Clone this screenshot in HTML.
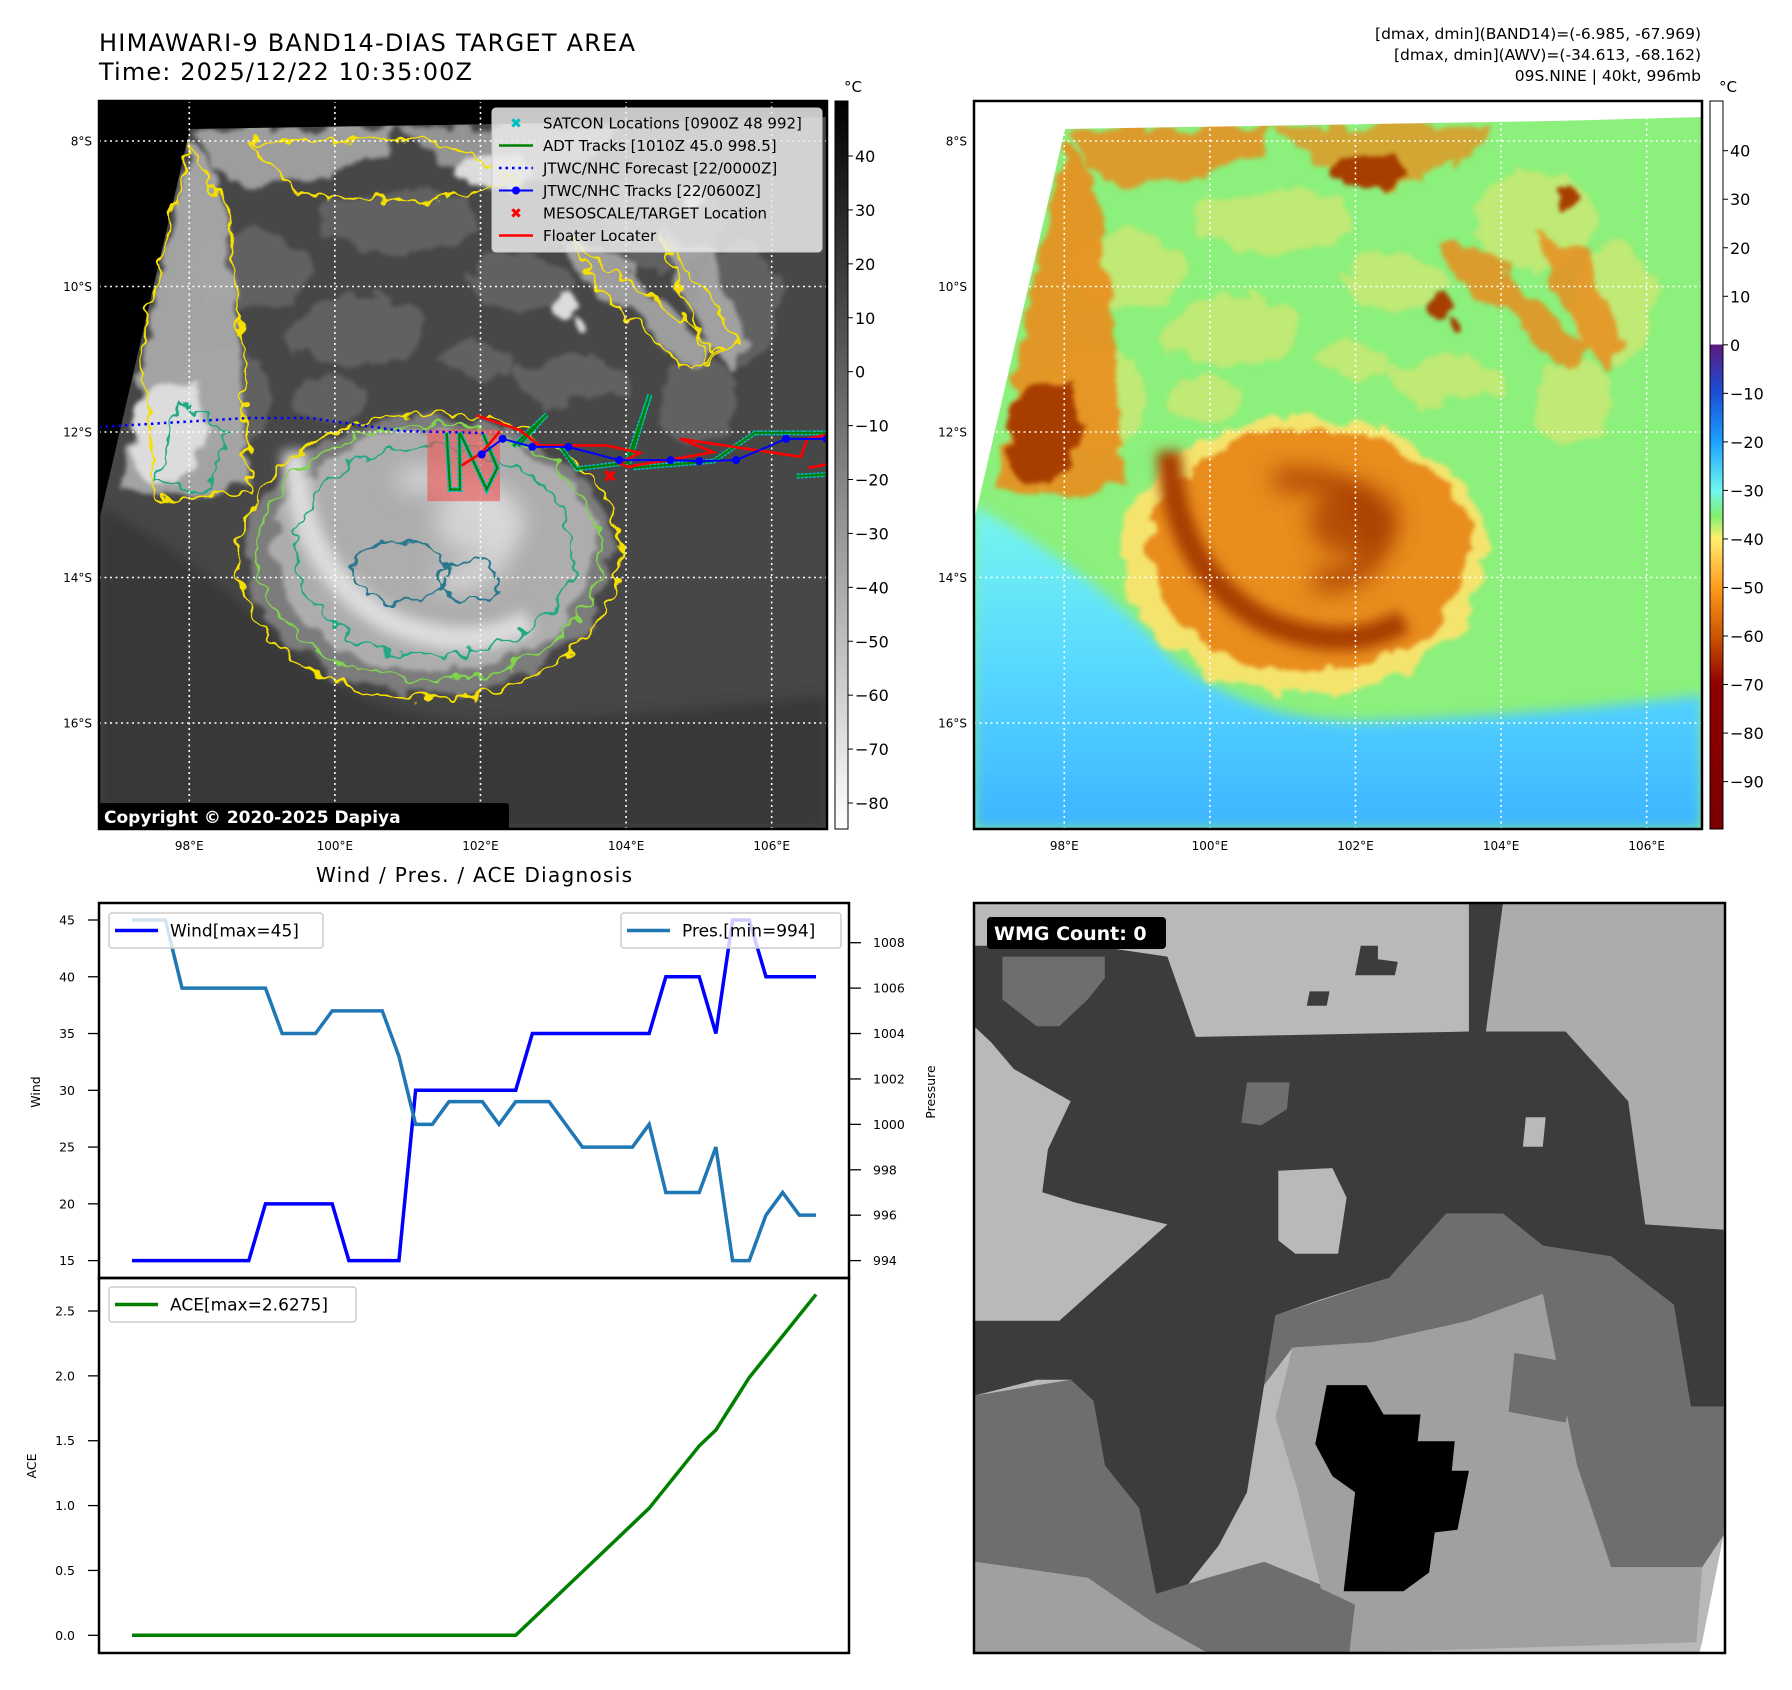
<!DOCTYPE html>
<html><head><meta charset="utf-8">
<style>
html,body{margin:0;padding:0;background:#fff;}
body{width:1792px;height:1690px;position:relative;overflow:hidden;font-family:"Liberation Sans","DejaVu Sans",sans-serif;}
svg{position:absolute;left:0;top:0;}
text{font-family:"DejaVu Sans","Liberation Sans",sans-serif;}
</style></head>
<body>
<svg id="root" width="1792" height="1690" viewBox="0 0 1792 1690">
<defs>
  <filter id="blur6" x="-20%" y="-20%" width="140%" height="140%"><feGaussianBlur stdDeviation="6"/></filter>
  <filter id="blur12" x="-30%" y="-30%" width="160%" height="160%"><feGaussianBlur stdDeviation="12"/></filter>
  <filter id="wig" x="-10%" y="-10%" width="120%" height="120%">
    <feTurbulence type="fractalNoise" baseFrequency="0.06" numOctaves="2" seed="3" result="n"/>
    <feDisplacementMap in="SourceGraphic" in2="n" scale="22" xChannelSelector="R" yChannelSelector="G"/>
  </filter>
  <filter id="rough" x="-10%" y="-10%" width="120%" height="120%">
    <feTurbulence type="fractalNoise" baseFrequency="0.035" numOctaves="3" seed="7" result="n"/>
    <feDisplacementMap in="SourceGraphic" in2="n" scale="30" xChannelSelector="R" yChannelSelector="G"/>
    <feGaussianBlur stdDeviation="2"/>
  </filter>
  <clipPath id="clipMap"><rect x="0" y="0" width="728" height="728"/></clipPath>
  <clipPath id="clipWind"><rect x="99" y="903" width="750" height="375"/></clipPath>
  <clipPath id="clipAce"><rect x="99" y="1278" width="750" height="375"/></clipPath>
  <linearGradient id="cb1" x1="0" y1="0" x2="0" y2="1">
    <stop offset="0" stop-color="#000"/><stop offset="1" stop-color="#fff"/>
  </linearGradient>
  <linearGradient id="cb2" x1="0" y1="0" x2="0" y2="1">
    <stop offset="0" stop-color="#fff"/><stop offset="0.334" stop-color="#fff"/>
    <stop offset="0.335" stop-color="#5b1a7e"/>
    <stop offset="0.40" stop-color="#1a4fd6"/>
    <stop offset="0.467" stop-color="#1aa0ff"/>
    <stop offset="0.535" stop-color="#6ff8f0"/>
    <stop offset="0.57" stop-color="#80f070"/>
    <stop offset="0.60" stop-color="#ffee70"/>
    <stop offset="0.67" stop-color="#ff9a1a"/>
    <stop offset="0.74" stop-color="#c85000"/>
    <stop offset="0.80" stop-color="#900000"/>
    <stop offset="1" stop-color="#7a0000"/>
  </linearGradient>
  <linearGradient id="sea2" x1="0" y1="0" x2="0" y2="1">
    <stop offset="0" stop-color="#78f6ee"/><stop offset="0.5" stop-color="#58d8ff"/><stop offset="1" stop-color="#3cb4ff"/>
  </linearGradient>
</defs>

<text x="99" y="51" font-size="24" textLength="536">HIMAWARI-9 BAND14-DIAS TARGET AREA</text>
<text x="99" y="80" font-size="24" textLength="373">Time: 2025/12/22 10:35:00Z</text>
<text x="1701" y="39" font-size="15.5" text-anchor="end">[dmax, dmin](BAND14)=(-6.985, -67.969)</text>
<text x="1701" y="60" font-size="15.5" text-anchor="end">[dmax, dmin](AWV)=(-34.613, -68.162)</text>
<text x="1701" y="81" font-size="15.5" text-anchor="end">09S.NINE | 40kt, 996mb</text>

<g id="map1" transform="translate(99,101)"></g>
<g id="map2" transform="translate(974,101)"></g>

<g>
  <rect x="835" y="101" width="13" height="728" fill="url(#cb1)" stroke="#000" stroke-width="1"/>
  <text x="844" y="92" font-size="15">°C</text>
  <g id="cb1ticks"></g>
</g>
<g>
  <rect x="1710" y="101" width="13" height="728" fill="url(#cb2)" stroke="#000" stroke-width="1"/>
  <text x="1719" y="92" font-size="15">°C</text>
  <g id="cb2ticks"></g>
</g>

<text x="474" y="882" font-size="20" text-anchor="middle" textLength="316">Wind / Pres. / ACE Diagnosis</text>
<g id="chart"></g>

<g id="wmg" transform="translate(974,903)"></g>
</svg>

<script>
// ===== chart data =====
const timeIndex = [0,1,2,3,4,5,6,7,8,9,10,11,12,13,14,15,16,17,18,19,20,21,22,23,24,25,26,27,28,29,30,31,32,33,34,35,36,37,38,39,40,41];
const windValues = [15,15,15,15,15,15,15,15,20,20,20,20,20,15,15,15,15,30,30,30,30,30,30,30,35,35,35,35,35,35,35,35,40,40,40,35,45,45,40,40,40,40];
const pressureValues = [1009,1009,1009,1006,1006,1006,1006,1006,1006,1004,1004,1004,1005,1005,1005,1005,1003,1000,1000,1001,1001,1001,1000,1001,1001,1001,1000,999,999,999,999,1000,997,997,997,999,994,994,996,997,996,996];
const aceValues = [0,0,0,0,0,0,0,0,0,0,0,0,0,0,0,0,0,0,0,0,0,0,0,0,0.1225,0.245,0.3675,0.49,0.6125,0.735,0.8575,0.98,1.14,1.30,1.46,1.5825,1.785,1.9875,2.1475,2.3075,2.4675,2.6275];
const windTicks = [15,20,25,30,35,40,45];
const pressureTicks = [994,996,998,1000,1002,1004,1006,1008];
const aceTicks = [0.0,0.5,1.0,1.5,2.0,2.5];
const grayBarTicks = [40,30,20,10,0,-10,-20,-30,-40,-50,-60,-70,-80];
const colorBarTicks = [40,30,20,10,0,-10,-20,-30,-40,-50,-60,-70,-80,-90];
const lonTicks = [98,100,102,104,106];
const latTicks = [8,10,12,14,16];

const NS = 'http://www.w3.org/2000/svg';
function mk(tag, attrs, parent){const e=document.createElementNS(NS,tag);for(const k in attrs)e.setAttribute(k,attrs[k]);if(parent)parent.appendChild(e);return e;}

const xIdx = i => 132 + (816-132)*i/41;
const yWind = w => 1260.6 - (w-15)*(1260.6-920)/30;
const yPres = p => yWind(15 + 2*(p-994));
const yAce = a => 1635.3 - a*(1635.3-1311)/2.5;

const chart = document.getElementById('chart');
let f1 = mk('rect',{x:99,y:903,width:750,height:375,fill:'#fff',stroke:'none'},chart);


let f2 = mk('rect',{x:99,y:1278,width:750,height:375,fill:'#fff',stroke:'none'},chart);



windTicks.forEach(t=>{
  const y=yWind(t);
  mk('line',{x1:88,x2:99,y1:y,y2:y,stroke:'#000','stroke-width':1.3},chart);
  const tx=mk('text',{x:75,y:y+4.5,'font-size':12.5,'text-anchor':'end'},chart);
  tx.textContent=t;
  
  
});
pressureTicks.forEach(t=>{
  const y=yPres(t);
  mk('line',{x1:849,x2:861,y1:y,y2:y,stroke:'#000','stroke-width':1.3},chart);
  const tx=mk('text',{x:873,y:y+4.5,'font-size':12.5},chart);
  tx.textContent=t;
  
  
});
aceTicks.forEach(t=>{
  const y=yAce(t);
  mk('line',{x1:88,x2:99,y1:y,y2:y,stroke:'#000','stroke-width':1.3},chart);
  const tx=mk('text',{x:75,y:y+4.5,'font-size':12.5,'text-anchor':'end'},chart);
  tx.textContent=t.toFixed(1);
  
  
});
let yl=mk('text',{x:0,y:0,'font-size':12.5,'text-anchor':'middle',transform:'translate(40,1092) rotate(-90)'},chart);
yl.textContent='Wind';


let yr=mk('text',{x:0,y:0,'font-size':12.5,'text-anchor':'middle',transform:'translate(935,1092) rotate(-90)'},chart);
yr.textContent='Pressure';


let ya=mk('text',{x:0,y:0,'font-size':12.5,'text-anchor':'middle',transform:'translate(36,1466) rotate(-90)'},chart);
ya.textContent='ACE';



const ptsW = timeIndex.map((i,k)=>xIdx(i)+','+yWind(windValues[k])).join(' ');
const ptsP = timeIndex.map((i,k)=>xIdx(i)+','+yPres(pressureValues[k])).join(' ');
const ptsA = timeIndex.map((i,k)=>xIdx(i)+','+yAce(aceValues[k])).join(' ');
let lw=mk('polyline',{points:ptsW,fill:'none',stroke:'#0000ff','stroke-width':3.5,'clip-path':'url(#clipWind)'},chart);


let lp=mk('polyline',{points:ptsP,fill:'none',stroke:'#1f77b4','stroke-width':3.5,'clip-path':'url(#clipWind)'},chart);


let la=mk('polyline',{points:ptsA,fill:'none',stroke:'#008000','stroke-width':3.5,'clip-path':'url(#clipAce)'},chart);



function legend(x,y,w,color,label,name){
  const g=mk('g',{},chart);
  
  
  mk('rect',{x:x,y:y,width:w,height:35,rx:3,fill:'rgba(255,255,255,0.8)',stroke:'#ccc','stroke-width':1.5},g);
  mk('line',{x1:x+6,x2:x+49,y1:y+17.5,y2:y+17.5,stroke:color,'stroke-width':3.5},g);
  const t=mk('text',{x:x+61,y:y+23.5,'font-size':17},g);
  t.textContent=label;
}
legend(109,913,214,'#0000ff','Wind[max=45]','wind-legend');
legend(621,913,220,'#1f77b4','Pres.[min=994]','pressure-legend');
legend(109,1287,247,'#008000','ACE[max=2.6275]','ace-legend');

let b1=mk('rect',{x:99,y:903,width:750,height:375,fill:'none',stroke:'#000','stroke-width':2.5},chart);


let b2=mk('rect',{x:99,y:1278,width:750,height:375,fill:'none',stroke:'#000','stroke-width':2.5},chart);



const cb1y = v => 156 + (40-v)*(803-156)/120;
const cb2y = v => 150.7 + (40-v)*(781.6-150.7)/130;
const cb1=document.getElementById('cb1ticks');
grayBarTicks.forEach(v=>{
  mk('line',{x1:848,x2:853,y1:cb1y(v),y2:cb1y(v),stroke:'#000'},cb1);
  const t=mk('text',{x:855,y:cb1y(v)+6,'font-size':16},cb1);
  t.textContent=v<0?'\u2212'+(-v):v;
  
  
});
const cb2=document.getElementById('cb2ticks');
colorBarTicks.forEach(v=>{
  mk('line',{x1:1723,x2:1728,y1:cb2y(v),y2:cb2y(v),stroke:'#000'},cb2);
  const t=mk('text',{x:1730,y:cb2y(v)+6,'font-size':16},cb2);
  t.textContent=v<0?'\u2212'+(-v):v;
  
  
});

const lonX = lon => (lon-96.76)*72.8;
const latY = lat => 40 + (lat-8)*72.75;

function buildMap(gid, pal, withOverlays){
  const g=document.getElementById(gid);
  const c=mk('g',{'clip-path':'url(#clipMap)'},g);
  mk('rect',{x:0,y:0,width:728,height:728,fill:pal.base},c);
  const up=mk('g',{filter:'url(#rough)'},c);
  [[150,170,60,40],[260,230,70,35],[420,180,50,30],[560,120,60,50],[640,200,40,60],[120,300,50,60],[300,120,80,30],[470,280,60,25],[600,300,40,40],[230,300,40,20],[380,260,40,18]].forEach(e=>{
    mk('ellipse',{cx:e[0],cy:e[1],rx:e[2],ry:e[3],fill:pal.light,opacity:0.5},up);
  });
  const ts=mk('g',{filter:'url(#rough)'},c);
  mk('path',{d:'M100,28 L300,26 L290,55 L220,75 L150,85 L110,70 Z',fill:pal.mid,opacity:0.85},ts);
  mk('path',{d:'M300,26 L520,24 L500,55 L420,85 L340,60 Z',fill:pal.mid,opacity:0.75},ts);
  mk('ellipse',{cx:395,cy:70,rx:40,ry:16,fill:pal.hi},ts);
  mk('path',{d:'M470,140 L520,150 L560,200 L620,250 L600,270 L540,220 L480,180 Z',fill:pal.mid,opacity:0.85},ts);
  mk('path',{d:'M560,130 L610,150 L650,240 L630,270 L590,200 Z',fill:pal.mid,opacity:0.85},ts);
  mk('ellipse',{cx:470,cy:205,rx:14,ry:10,fill:pal.hi},ts);
  mk('ellipse',{cx:480,cy:225,rx:8,ry:8,fill:pal.hi},ts);
  mk('ellipse',{cx:590,cy:95,rx:12,ry:10,fill:pal.hi},ts);
  mk('path',{d:'M91,40 L125,90 L130,160 L140,250 L150,380 L110,395 L60,390 L20,395 L50,230 Z',fill:pal.mid,filter:'url(#rough)',opacity:0.9},c);
  mk('ellipse',{cx:70,cy:330,rx:38,ry:50,fill:pal.hi,filter:'url(#rough)'},c);
  mk('path',{d:'M0,405 Q120,470 200,560 Q290,625 400,620 Q560,615 728,594 L728,728 L0,728 Z',fill:pal.sea,filter:'url(#blur6)'},c);
  const cy=mk('g',{},c);
  mk('ellipse',{cx:330,cy:455,rx:182,ry:140,fill:pal.light,filter:'url(#rough)'},cy);
  mk('ellipse',{cx:335,cy:448,rx:162,ry:122,fill:pal.mid,filter:'url(#rough)'},cy);
  mk('path',{d:'M195,350 Q200,470 290,520 Q370,555 430,520',fill:'none',stroke:pal.hi,'stroke-width':24,filter:'url(#blur6)'},cy);
  mk('path',{d:'M300,380 Q370,370 400,420 Q410,480 340,480',fill:'none',stroke:pal.hi,'stroke-width':20,filter:'url(#blur12)'},cy);
  mk('ellipse',{cx:380,cy:420,rx:45,ry:35,fill:pal.hi,opacity:0.8,filter:'url(#blur12)'},cy);
  mk('path',{d:'M0,0 L728,0 L728,16 L580,20 L91,28 L0,420 Z',fill:pal.out},c);
  if(withOverlays){
    const ct=mk('g',{fill:'none','stroke-width':2.2,filter:'url(#wig)'},c);
    mk('ellipse',{cx:330,cy:455,rx:190,ry:143,stroke:'#f5e000'},ct);
    mk('ellipse',{cx:330,cy:452,rx:172,ry:128,stroke:'#7fd34e'},ct);
    mk('ellipse',{cx:335,cy:450,rx:140,ry:105,stroke:'#22a884'},ct);
    mk('ellipse',{cx:300,cy:470,rx:50,ry:30,stroke:'#2a788e'},ct);
    mk('ellipse',{cx:370,cy:480,rx:30,ry:20,stroke:'#2a788e'},ct);
    mk('path',{d:'M91,45 L130,110 L145,260 L150,390 L60,400 L40,250 Z',stroke:'#f5e000'},ct);
    mk('path',{d:'M150,40 L340,40 L420,80 L330,100 L200,95 Z',stroke:'#f5e000'},ct);
    mk('path',{d:'M470,140 L560,200 L620,250 L590,270 L500,190 Z',stroke:'#f5e000'},ct);
    mk('path',{d:'M560,130 L640,240 L610,260 Z',stroke:'#f5e000'},ct);
    mk('path',{d:'M80,300 L130,330 L110,390 L60,380 Z',stroke:'#22a884'},ct);
  }
  const gr=mk('g',{stroke:'#fff','stroke-width':1.6,'stroke-dasharray':'2,3.5'},c);
  lonTicks.forEach(l=>mk('line',{x1:lonX(l),x2:lonX(l),y1:0,y2:728},gr));
  latTicks.forEach(l=>mk('line',{x1:0,x2:728,y1:latY(l),y2:latY(l)},gr));
  if(withOverlays){
    const z=(x,y)=>[380+x/3-99, 380+y/3-101.5];
    const P=a=>a.map(p=>z(p[0],p[1]).join(',')).join(' ');
    const bx=z(142,150), bx2=z(360,365);
    let r=mk('rect',{x:bx[0],y:bx[1],width:bx2[0]-bx[0],height:bx2[1]-bx[1],fill:'rgba(235,90,90,0.65)'},c);
    
    
    let fc=mk('polyline',{points:'0,326 148,317 211,317 303,330 385,332',fill:'none',stroke:'#0000ff','stroke-width':2.5,'stroke-dasharray':'2.5,4'},c);
    
    
    const cyan=[[[200,160],[210,330],[240,330],[238,160]],[[240,160],[320,330],[352,265],[310,165]],[[400,200],[500,105],[415,200]],[[540,200],[590,268],[740,250],[810,45],[745,255]],[[760,265],[1000,245],[1125,160],[1340,160]],[[1250,290],[1340,285]]];
    cyan.forEach(s=>{let p=mk('polyline',{points:P(s),fill:'none',stroke:'#00c0c0','stroke-width':5,'stroke-dasharray':'3,1'},c);
      
      });
    cyan.forEach(s=>{let p=mk('polyline',{points:P(s),fill:'none',stroke:'#008000','stroke-width':2.2},c);
      
      });
    let red=mk('polyline',{points:P([[290,108],[420,152],[478,198],[680,198],[780,220],[718,252],[745,262],[1000,218],[900,178],[1262,232],[1282,178],[1340,165]]),fill:'none',stroke:'#ff0000','stroke-width':2.6},c);
    
    
    mk('polyline',{points:P([[245,258],[305,220],[360,155]]),fill:'none',stroke:'#ff0000','stroke-width':2.6},c);
    mk('polyline',{points:P([[1285,265],[1340,255]]),fill:'none',stroke:'#ff0000','stroke-width':2.6},c);
    const bt=[[305,225],[368,178],[457,202],[565,202],[718,242],[872,242],[958,245],[1068,242],[1218,178],[1340,178]];
    let bl=mk('polyline',{points:P(bt),fill:'none',stroke:'#0000ff','stroke-width':2},c);
    
    
    bt.forEach(p=>{const q=z(p[0],p[1]);mk('circle',{cx:q[0],cy:q[1],r:4,fill:'#0000ff'},c);});
    const xm=z(690,290);
    let xx=mk('text',{x:xm[0],y:xm[1]+6,'font-size':17,'font-weight':'bold',fill:'#ff0000','text-anchor':'middle'},c);
    xx.textContent='\u2716';
    
    
    const lg=mk('g',{transform:'translate(-99,-101)'},g);
    
    
    mk('rect',{x:492,y:108,width:330,height:144,rx:4,fill:'rgba(235,235,235,0.85)',stroke:'#ccc'},lg);
    const items=[['SATCON Locations [0900Z 48 992]','satcon'],['ADT Tracks [1010Z 45.0 998.5]','adt'],['JTWC/NHC Forecast [22/0000Z]','fc'],['JTWC/NHC Tracks [22/0600Z]','trk'],['MESOSCALE/TARGET Location','x'],['Floater Locater','red']];
    items.forEach((it,k)=>{
      const yy=123+k*22.5;
      if(it[1]==='satcon'){const t=mk('text',{x:516,y:yy+5,'font-size':14,'font-weight':'bold',fill:'#00bfbf','text-anchor':'middle'},lg);t.textContent='\u2716';}
      if(it[1]==='adt') mk('line',{x1:499,x2:533,y1:yy,y2:yy,stroke:'#008000','stroke-width':2.5},lg);
      if(it[1]==='fc') mk('line',{x1:499,x2:533,y1:yy,y2:yy,stroke:'#0000ff','stroke-width':2.5,'stroke-dasharray':'2.5,4'},lg);
      if(it[1]==='trk'){mk('line',{x1:499,x2:533,y1:yy,y2:yy,stroke:'#0000ff','stroke-width':2},lg);mk('circle',{cx:516,cy:yy,r:4,fill:'#0000ff'},lg);}
      if(it[1]==='x'){const t=mk('text',{x:516,y:yy+5,'font-size':14,'font-weight':'bold',fill:'#ff0000','text-anchor':'middle'},lg);t.textContent='\u2716';}
      if(it[1]==='red') mk('line',{x1:499,x2:533,y1:yy,y2:yy,stroke:'#ff0000','stroke-width':2.5},lg);
      const t=mk('text',{x:543,y:yy+5.5,'font-size':15},lg);
      t.textContent=it[0];
      
      
    });
    const cr=mk('g',{},g);
    
    
    mk('rect',{x:0,y:702,width:410,height:27,rx:3,fill:'#000'},cr);
    const ctx=mk('text',{x:5,y:722,'font-size':17,'font-weight':'bold',fill:'#fff'},cr);
    ctx.textContent='Copyright \u00a9 2020-2025 Dapiya';
  }
  mk('rect',{x:0,y:0,width:728,height:728,fill:'none',stroke:'#000','stroke-width':2.5},g);
  latTicks.forEach(l=>{
    const t=mk('text',{x:-7,y:latY(l)+4.5,'font-size':12,'text-anchor':'end'},g);
    t.textContent=l+'\u00b0S';
    
    
  });
  lonTicks.forEach(l=>{
    const t=mk('text',{x:lonX(l),y:749,'font-size':12,'text-anchor':'middle'},g);
    t.textContent=l+'\u00b0E';
    
    
  });
}
buildMap('map1',{base:'#474747',light:'#7c7c7c',mid:'#adadad',hi:'#dcdcdc',sea:'#393939',out:'#000'},true);
buildMap('map2',{base:'#8cf07c',light:'#f4e46e',mid:'#e98d1c',hi:'#a83c00',sea:'url(#sea2)',out:'#fff'},false);

// ===== WMG panel =====
const wmg=document.getElementById('wmg');
const W=(a)=>a.map(p=>((p[0]-130)/1.758).toFixed(1)+','+((p[1]-100)/1.867).toFixed(1)).join(' ');
function poly(pts,fill,name){const p=mk('polygon',{points:W(pts),fill:fill},wmg);return p;}
mk('rect',{x:0,y:0,width:751,height:750,fill:'#b9b9b9'},wmg);
poly([[1060,100],[1448,100],[1448,710],[1310,700],[1280,470],[1170,340],[1030,340]],'#acacac','wmg-light-region');
poly([[130,180],[340,180],[470,200],[520,350],[1000,340],[1000,100],[1060,100],[1030,340],[1170,340],[1280,470],[1310,700],[1448,710],[1448,1040],[1390,1040],[1360,850],[1250,760],[1130,740],[1060,680],[960,680],[860,800],[740,840],[660,870],[640,1000],[610,1200],[560,1300],[500,1380],[450,1390],[420,1230],[360,1150],[340,1030],[300,990],[240,990],[130,1020],[130,880],[280,880],[470,700],[310,660],[250,640],[260,560],[300,470],[200,410],[160,360],[130,330]],'#3c3c3c','wmg-dark-region');
poly([[660,870],[860,800],[960,680],[1060,680],[1130,740],[1250,760],[1360,850],[1390,1040],[1448,1040],[1448,1280],[1410,1340],[1250,1340],[1190,1150],[1130,830],[1000,880],[830,920],[690,930],[640,1000]],'#6e6e6e','wmg-mid-region');
poly([[130,1020],[300,990],[340,1030],[360,1150],[420,1230],[450,1390],[540,1360],[640,1330],[780,1390],[800,1410],[790,1500],[540,1500],[440,1440],[330,1360],[200,1340],[130,1330]],'#6e6e6e','wmg-mid-region-2');
poly([[130,1330],[330,1360],[440,1440],[540,1500],[130,1500]],'#a0a0a0','wmg-gray-region');
poly([[690,930],[830,920],[1000,880],[1130,830],[1190,1150],[1250,1340],[1410,1340],[1400,1480],[790,1500],[800,1410],[740,1380],[700,1200],[660,1060]],'#a0a0a0','wmg-gray-region-2');
poly([[1080,940],[1190,960],[1170,1070],[1070,1050]],'#6e6e6e','wmg-mid-patch');
poly([[180,200],[360,200],[360,240],[330,280],[280,330],[240,330],[180,280]],'#6e6e6e','wmg-mid-patch-2');
poly([[610,435],[685,435],[680,485],[635,515],[600,510]],'#6e6e6e','wmg-mid-patch-3');
poly([[665,600],[760,595],[785,650],[770,755],[695,755],[665,730]],'#b9b9b9','wmg-light-patch');
poly([[1100,500],[1135,500],[1130,555],[1095,555]],'#b9b9b9','wmg-light-patch-2');
poly([[810,180],[840,180],[840,205],[875,210],[870,235],[800,235]],'#3c3c3c','wmg-dark-patch');
poly([[720,265],[755,265],[750,292],[715,292]],'#3c3c3c','wmg-dark-patch-2');
poly([[750,1000],[820,1000],[850,1055],[915,1055],[910,1105],[975,1105],[970,1160],[1000,1160],[980,1270],[940,1275],[930,1350],[885,1385],[780,1385],[800,1200],[760,1170],[730,1110]],'#000000','wmg-black-region');
poly([[1448,1280],[1448,1500],[1405,1500],[1410,1480]],'#ffffff','wmg-no-data');
const wl=mk('g',{},wmg);


mk('rect',{x:13,y:14,width:179,height:32,rx:4,fill:'#000'},wl);
const wt=mk('text',{x:20,y:37,'font-size':19,'font-weight':'bold',fill:'#fff'},wl);
wt.textContent='WMG Count: 0';
mk('rect',{x:0,y:0,width:751,height:750,fill:'none',stroke:'#000','stroke-width':2.5},wmg);
</script>
</body></html>
